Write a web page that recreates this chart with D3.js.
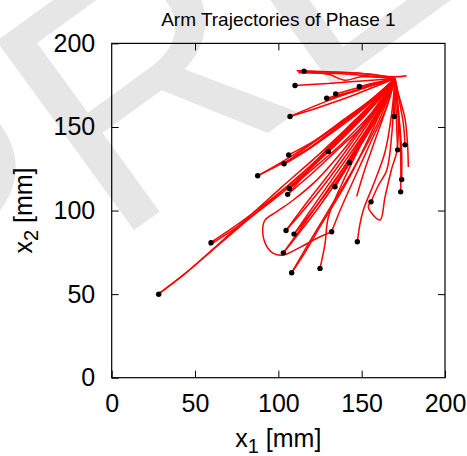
<!DOCTYPE html>
<html>
<head>
<meta charset="utf-8">
<script src="https://cdn.jsdelivr.net/npm/d3@7"></script>
<style>
  body { margin: 0; background: #fff; }
  svg text { font-family: "Liberation Sans", Arial, sans-serif; }
</style>
</head>
<body>
<div id="chart"></div>
<script>
// tick values
const xTicks = [0, 50, 100, 150, 200];
const yTicks = [0, 50, 100, 150, 200];

// start positions (black dots), mm
const startPoints = [
  [28.2, 49.9], [59.6, 80.7], [87.6, 120.8], [103.4, 128], [106.2, 133.3],
  [107, 156.3], [110, 174.8], [115.4, 183.4], [129, 167.2], [134.4, 169.8],
  [148.6, 174.2], [130, 135.4], [142.6, 128.6], [105.6, 109.7], [106.6, 113.2],
  [134, 114.2], [104.6, 88.1], [109.4, 85.9], [103, 74.7], [108, 62.8],
  [125, 65.4], [132, 87.3], [147.4, 81.3], [155.6, 105.2], [173.4, 111.2],
  [174, 118.6], [176, 139.3], [171.6, 136.3], [169.6, 156.3]
];

// arm trajectories, mm
const trajectories = [
  [[28, 50], [45, 63], [60, 76], [80, 93], [100, 110], [125, 132], [150, 157], [170, 179]],
  [[28, 50], [46, 64], [62, 78], [82, 96], [102, 114], [127, 136], [152, 160], [170, 179]],
  [[58.5, 79.3], [75, 90], [90, 101], [110, 117], [130, 135], [152, 157], [170, 179]],
  [[59.6, 81], [76, 92], [92, 104], [112, 120], [132, 139], [153, 160], [170, 179]],
  [[87.6, 120.8], [100, 127], [115, 135], [130, 145], [150, 160], [170, 179]],
  [[87.6, 120.8], [102, 129], [118, 139], [135, 151], [155, 166], [170, 179]],
  [[103.4, 128], [118, 137], [135, 150], [155, 165], [170, 179]],
  [[103.4, 128], [120, 140], [138, 153], [156, 166], [170, 179]],
  [[106.2, 133.3], [122, 142], [140, 155], [158, 168], [170, 179]],
  [[103.6, 127.8], [120, 138], [140, 153], [158, 167], [170, 179]],
  [[107, 156.3], [125, 162], [145, 169], [160, 175], [170, 179]],
  [[107, 156.3], [128, 165], [150, 173], [170, 179]],
  [[110, 174.8], [130, 176], [150, 177.5], [170, 179]],
  [[111, 183.7], [130, 183], [150, 182], [170, 180], [177, 180.7]],
  [[112, 182.5], [135, 182], [155, 180.5], [170, 179]],
  [[112, 183.2], [130, 181.5], [140, 178], [150, 180], [170, 179]],
  [[115.4, 183.4], [140, 182.5], [160, 181], [170, 179]],
  [[129, 167.2], [145, 171.5], [160, 176], [170, 179]],
  [[128, 166.3], [145, 171], [158, 175.5], [170, 179]],
  [[134.4, 169.8], [148, 173.5], [160, 176.5], [170, 179]],
  [[148.6, 174.2], [158, 176.5], [170, 179]],
  [[130, 135.4], [140, 145], [150, 155], [160, 166], [170, 179]],
  [[130, 135.4], [142, 150], [155, 162], [170, 179]],
  [[142.6, 128.6], [150, 140], [158, 153], [165, 166], [170, 179]],
  [[142.6, 128.6], [152, 145], [162, 162], [170, 179]],
  [[105.6, 109.7], [120, 122], [135, 136], [150, 150], [162, 165], [170, 179]],
  [[105.6, 109.7], [118, 124], [132, 140], [150, 157], [170, 179]],
  [[106.6, 113.2], [122, 126], [138, 140], [152, 154], [163, 167], [170, 179]],
  [[106.6, 113.2], [124, 130], [142, 148], [158, 164], [170, 179]],
  [[134, 114.2], [142, 128], [150, 142], [160, 160], [170, 179]],
  [[134, 114.2], [145, 132], [155, 150], [165, 167], [170, 179]],
  [[147, 108.5], [152, 125], [158, 142], [165, 162], [170, 179]],
  [[104.6, 88.1], [115, 100], [128, 116], [142, 135], [157, 157], [170, 179]],
  [[104.6, 88.1], [118, 106], [132, 124], [148, 146], [162, 165], [170, 179]],
  [[109.4, 85.9], [120, 99], [132, 115], [145, 135], [158, 157], [170, 179]],
  [[109.4, 85.9], [122, 104], [136, 124], [150, 144], [163, 164], [170, 179]],
  [[103, 74.7], [112, 86], [125, 103], [140, 125], [155, 150], [170, 179]],
  [[103, 74.7], [114, 90], [128, 110], [145, 134], [160, 158], [170, 179]],
  [[108, 62.8], [116, 75], [126, 92], [140, 115], [155, 145], [170, 179]],
  [[108, 62.8], [118, 80], [130, 100], [145, 125], [160, 153], [170, 179]],
  [[125, 65.4], [128, 80], [130, 96], [140, 120], [155, 150], [170, 179]],
  [[132, 87.3], [123, 83.3], [113, 78], [103, 73.4], [97, 74.4], [92.6, 79.3], [90.6, 88.3],
   [92, 94.3], [99, 99.3], [109, 106.3], [123, 118.2], [138, 135], [155, 157], [170, 179]],
  [[132, 87.3], [137, 100], [145, 118], [155, 140], [165, 162], [170, 179]],
  [[147.4, 81.3], [149, 92], [151, 100.3], [158, 118], [164, 135], [168, 158], [170, 179]],
  [[155.6, 105.2], [154, 102], [161, 94.3], [164, 108], [168, 125], [171, 135], [172, 150], [170, 179]],
  [[155.6, 105.2], [160, 115], [165, 124], [168, 145], [170, 179]],
  [[173.4, 111.2], [173.5, 125], [173, 145], [171.5, 165], [170, 179]],
  [[174, 118.6], [174, 135], [172.5, 155], [170, 179]],
  [[176, 139.3], [175, 152], [172.5, 166], [170, 179]],
  [[178, 126], [177.5, 140], [176, 155], [172, 170], [170, 179]],
  [[171.6, 136.3], [171, 150], [170.5, 165], [170, 179]],
  [[169.6, 156.3], [170, 165], [170, 179]]
];

const width = 467;
const height = 456;
const plotLeft = 111.7, plotRight = 445, plotTop = 43.4, plotBottom = 377.7;
const tickLen = 7;

const svg = d3.select("#chart").append("svg")
  .attr("width", width)
  .attr("height", height);

// faint page watermark behind the figure
svg.append("text")
  .attr("transform", "translate(-72,380) rotate(-36)")
  .attr("font-family", "Liberation Serif, Times New Roman, serif")
  .attr("font-size", 340)
  .attr("fill", "#e6e6e6")
  .text("PREPRINT");

const x = d3.scaleLinear().domain([0, 200]).range([plotLeft, plotRight]);
const y = d3.scaleLinear().domain([0, 200]).range([plotBottom, plotTop]);

// axes with inward ticks
const styleAxis = g => {
  g.select(".domain").remove();
  g.selectAll(".tick line").attr("stroke", "#000");
  g.selectAll(".tick text").attr("fill", "#000").attr("font-size", 25)
    .attr("font-family", "Liberation Sans, Arial, sans-serif");
};

svg.append("g")
  .attr("transform", `translate(0,${plotBottom})`)
  .call(d3.axisBottom(x).tickValues(xTicks).tickSize(-tickLen).tickSizeOuter(0).tickPadding(16.3))
  .call(styleAxis);

svg.append("g")
  .attr("transform", `translate(${plotLeft},0)`)
  .call(d3.axisLeft(y).tickValues(yTicks).tickSize(-tickLen).tickSizeOuter(0).tickPadding(16.5))
  .call(styleAxis);

svg.append("g")
  .attr("transform", `translate(0,${plotTop})`)
  .call(d3.axisTop(x).tickValues(xTicks.slice(1, -1)).tickSize(-tickLen).tickSizeOuter(0).tickFormat(""))
  .call(styleAxis);

svg.append("g")
  .attr("transform", `translate(${plotRight},0)`)
  .call(d3.axisRight(y).tickValues(yTicks.slice(1, -1)).tickSize(-tickLen).tickSizeOuter(0).tickFormat(""))
  .call(styleAxis);

// trajectories
const line = d3.line()
  .x(d => x(d[0]))
  .y(d => y(d[1]))
  .curve(d3.curveCatmullRom.alpha(0.5));

svg.append("g")
  .selectAll("path")
  .data(trajectories)
  .enter()
  .append("path")
  .attr("d", line)
  .attr("fill", "none")
  .attr("stroke", "#ff0000")
  .attr("stroke-width", 1.5)
  .attr("stroke-linejoin", "round");

svg.append("g")
  .selectAll("circle")
  .data(startPoints)
  .enter()
  .append("circle")
  .attr("cx", d => x(d[0]))
  .attr("cy", d => y(d[1]))
  .attr("r", 2.7)
  .attr("fill", "#000");

// plot border
svg.append("rect")
  .attr("x", plotLeft)
  .attr("y", plotTop)
  .attr("width", plotRight - plotLeft)
  .attr("height", plotBottom - plotTop)
  .attr("fill", "none")
  .attr("stroke", "#000")
  .attr("stroke-width", 1.2);

// title and axis labels
svg.append("text")
  .attr("x", (plotLeft + plotRight) / 2)
  .attr("y", 26)
  .attr("text-anchor", "middle")
  .attr("font-size", 19)
  .text("Arm Trajectories of Phase 1");

const xLabel = svg.append("text")
  .attr("x", (plotLeft + plotRight) / 2)
  .attr("y", 446.5)
  .attr("text-anchor", "middle")
  .attr("font-size", 25);
xLabel.append("tspan").text("x");
xLabel.append("tspan").attr("font-size", 20).attr("dy", 6).text("1");
xLabel.append("tspan").attr("dy", -6).text(" [mm]");

const yLabel = svg.append("text")
  .attr("transform", `translate(32,${(plotTop + plotBottom) / 2}) rotate(-90)`)
  .attr("text-anchor", "middle")
  .attr("font-size", 25);
yLabel.append("tspan").text("x");
yLabel.append("tspan").attr("font-size", 20).attr("dy", 6).text("2");
yLabel.append("tspan").attr("dy", -6).text(" [mm]");
</script>
</body>
</html>
